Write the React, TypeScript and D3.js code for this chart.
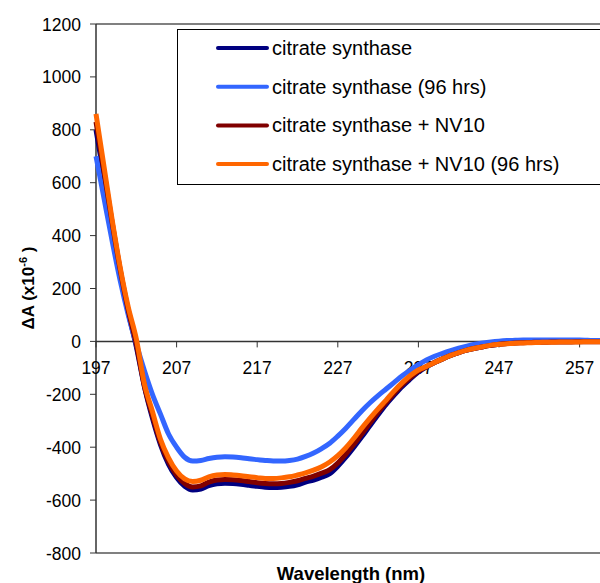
import React from "react";
import * as d3 from "d3";

const wavelengths: number[] = d3.range(197, 261);

const csValues: number[] = [
  800, 620, 440, 265, 110, -20, -170, -290, -390, -465,
  -515, -548, -562, -558, -545, -538, -536, -537, -540, -544,
  -548, -551, -552, -551, -548, -542, -532, -524, -513, -500,
  -472, -438, -400, -360, -318, -277, -238, -203, -170, -142,
  -116, -96, -80, -66, -53, -42, -33, -26, -20, -15,
  -11, -8, -5, -3, -2, -1, 0, 1, 2, 2,
  2, 2, 1, 1,
];

const cs96Values: number[] = [
  700, 540, 380, 230, 100, -10, -110, -200, -275, -350,
  -400, -438, -452, -450, -443, -438, -436, -437, -440, -444,
  -447, -450, -452, -452, -450, -445, -435, -422, -405, -385,
  -358, -328, -295, -262, -232, -205, -180, -155, -130, -108,
  -88, -70, -56, -45, -35, -26, -18, -11, -6, -2,
  1, 3, 4, 5, 5, 5, 5, 5, 5, 5,
  5, 4, 3, 3,
];

const csNvValues: number[] = [
  830, 640, 450, 272, 118, -10, -168, -280, -382, -455,
  -505, -537, -550, -546, -532, -524, -522, -523, -526, -530,
  -534, -537, -538, -537, -533, -527, -518, -509, -498, -485,
  -460, -426, -389, -349, -308, -268, -231, -196, -164, -137,
  -113, -95, -80, -66, -53, -42, -33, -26, -20, -15,
  -11, -8, -6, -5, -4, -3, -3, -2, -2, -2,
  -1, -1, -1, -1,
];

const csNv96Values: number[] = [
  860, 660, 460, 280, 130, 10, -160, -265, -370, -440,
  -490, -520, -530, -525, -512, -505, -503, -505, -508, -512,
  -515, -518, -518, -516, -512, -505, -497, -487, -474, -456,
  -432, -402, -366, -327, -290, -255, -222, -187, -156, -129,
  -108, -95, -80, -66, -53, -42, -33, -26, -20, -14,
  -11, -9, -7, -6, -5, -4, -3, -3, -2, -2,
  -2, -1, -1, -1,
];

const seriesNames: string[] = [
  "citrate synthase",
  "citrate synthase (96 hrs)",
  "citrate synthase + NV10",
  "citrate synthase + NV10 (96 hrs)",
];
const seriesColors: string[] = ["#000080", "#3366FF", "#800000", "#FF6600"];
const seriesValues: number[][] = [csValues, cs96Values, csNvValues, csNv96Values];

const xTicks: number[] = [197, 207, 217, 227, 237, 247, 257];
const yTicks: number[] = [-800, -600, -400, -200, 0, 200, 400, 600, 800, 1000, 1200];

const W = 600;
const H = 583;
const left = 96;
const top = 24;
const bottom = 553;
const pxPerNm = 8.06;
const font = "'Liberation Sans', Arial, sans-serif";

export default function App() {
  const x = d3.scaleLinear().domain([197, 262]).range([left, left + 65 * pxPerNm]);
  const y = d3.scaleLinear().domain([-800, 1200]).range([bottom, top]);
  const line = d3
    .line<number>()
    .x((_, i) => x(wavelengths[i]))
    .y((d) => y(d))
    .curve(d3.curveMonotoneX);
  const y0 = y(0);

  return (
    <svg
      width={W}
      height={H}
      style={{ position: "absolute", left: 0, top: 0, background: "#fff" }}
      fontFamily={font}
    >
      <rect x={0} y={0} width={W} height={H} fill="#fff" />
      <line x1={left} x2={W + 10} y1={top} y2={top} stroke="#808080" strokeWidth={2} />
      <line x1={left} x2={W + 10} y1={bottom} y2={bottom} stroke="#808080" strokeWidth={2} />
      <line x1={left} x2={left} y1={top} y2={bottom} stroke="#333" strokeWidth={1.5} />
      {yTicks.map((t) => (
        <g key={"y" + t}>
          <line x1={left - 6} x2={left} y1={y(t)} y2={y(t)} stroke="#333" strokeWidth={1} />
          <text x={81} y={y(t) + 6.5} textAnchor="end" fontSize={17.5} fill="#000">
            {t}
          </text>
        </g>
      ))}
      <line x1={left} x2={W + 10} y1={y0} y2={y0} stroke="#333" strokeWidth={1.5} />
      {xTicks.map((t) => (
        <g key={"x" + t}>
          <line x1={x(t)} x2={x(t)} y1={y0} y2={y0 + 6} stroke="#333" strokeWidth={1} />
          <text x={x(t)} y={y0 + 33} textAnchor="middle" fontSize={17.5} fill="#000">
            {t}
          </text>
        </g>
      ))}
      {seriesValues.map((vals, i) => (
        <path
          key={"s" + i}
          d={line(vals) || ""}
          fill="none"
          stroke={seriesColors[i]}
          strokeWidth={5}
          strokeLinejoin="round"
        />
      ))}
      <rect x={177.5} y={29.5} width={440} height={155} fill="#fff" stroke="#000" strokeWidth={1} />
      {seriesNames.map((n, i) => {
        const ly = 48 + i * 38.7;
        return (
          <g key={"l" + i}>
            <line x1={218} x2={267} y1={ly} y2={ly} stroke={seriesColors[i]} strokeWidth={4} strokeLinecap="round" />
            <text x={272} y={ly + 7} fontSize={20} fill="#000">
              {n}
            </text>
          </g>
        );
      })}
      <text
        transform={`translate(34,288) rotate(-90)`}
        textAnchor="middle"
        fontSize={17}
        fontWeight="bold"
        fill="#000"
      >
        ΔA (x10
        <tspan dy={-7} fontSize={11}>-6</tspan>
        <tspan dy={7}> )</tspan>
      </text>
      <text x={351} y={580} textAnchor="middle" fontSize={18.5} fontWeight="bold" fill="#000">
        Wavelength (nm)
      </text>
    </svg>
  );
}
